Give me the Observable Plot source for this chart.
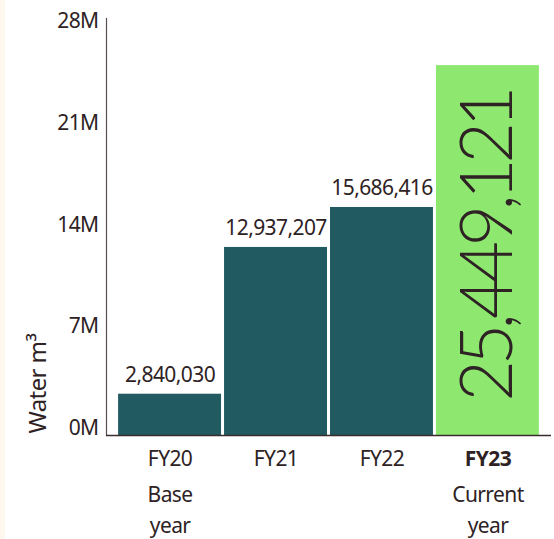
<!DOCTYPE html>
<html>
<head>
<meta charset="utf-8">
<script src="https://cdn.jsdelivr.net/npm/d3@7"></script>
<script src="https://cdn.jsdelivr.net/npm/@observablehq/plot@0.6"></script>
<style>
  html, body { margin: 0; padding: 0; background: #ffffff; }
  #wrap { width: 554px; height: 539px; background: linear-gradient(to right, #fef8ef 5px, #ffffff 5px); }
  #wrap svg { background: transparent; display: block; }
</style>
</head>
<body>
<div id="wrap"></div>
<script>
const categories = ["FY20", "FY21", "FY22", "FY23"];
const values = [2840030, 12937207, 15686416, 25449121];
const subLabels = ["Base\nyear", "", "", "Current\nyear"];
const yTicks = [0, 7000000, 14000000, 21000000, 28000000];
const yTickLabels = ["0M", "7M", "14M", "21M", "28M"];
const current = "FY23";

const data = categories.map((c, i) => ({cat: c, value: values[i], sub: subLabels[i]}));
const fmt = d3.format(",");
const textColor = "#2e2224";
const font = "'Noto Sans', 'Open Sans', sans-serif";

const chart = Plot.plot({
  width: 554,
  height: 539,
  marginLeft: 106,
  marginRight: 3,
  marginTop: 18,
  marginBottom: 104,
  style: {fontFamily: font, color: textColor, background: "transparent"},
  x: {domain: categories, paddingInner: 0, paddingOuter: 0.1, round: false, axis: null},
  y: {domain: [0, 28000000], range: [435, 28], axis: null},
  marks: [
    Plot.barY(data, {
      x: "cat", y: "value",
      fill: d => d.cat === current ? "#8ee870" : "#225a61",
      insetLeft: 1.5, insetRight: 1.5
    }),
    Plot.frame({anchor: "left", stroke: "#5b4e50", strokeWidth: 1.2}),
    Plot.ruleY([0], {stroke: "#3a2c2e", strokeWidth: 1.5}),
    // y tick labels
    Plot.text(yTicks, {
      y: d => d, text: (d, i) => yTickLabels[i],
      frameAnchor: "left", textAnchor: "end", lineAnchor: "middle",
      dx: -8, dy: -7, fontSize: 21, fill: textColor
    }),
    // y axis title
    Plot.text(["Water m³"], {
      frameAnchor: "bottom-left", rotate: -90, textAnchor: "start", lineAnchor: "middle",
      dx: -68, dy: -2, fontSize: 24, fill: textColor
    }),
    // value labels (non-current)
    Plot.text(data.filter(d => d.cat !== current), {
      x: "cat", y: "value", text: d => fmt(d.value),
      lineAnchor: "bottom", dy: -12, fontSize: 21, fill: textColor
    }),
    // big rotated label for current
    Plot.text(data.filter(d => d.cat === current), {
      x: "cat", y: d => d.value / 2, text: d => fmt(d.value),
      rotate: -90, textAnchor: "middle", lineAnchor: "middle",
      dx: 1, dy: -4, fontSize: 72, fontWeight: 300, fill: textColor,
      fontFamily: "Lato, sans-serif"
    }),
    // x category labels
    Plot.text(data.filter(d => d.cat !== current), {
      x: "cat", text: "cat", frameAnchor: "bottom",
      lineAnchor: "middle", dy: 24, fontSize: 21, fill: textColor
    }),
    Plot.text(data.filter(d => d.cat === current), {
      x: "cat", text: "cat", frameAnchor: "bottom",
      lineAnchor: "middle", dy: 24, fontSize: 21, fontWeight: "bold", fill: textColor
    }),
    // sub labels
    Plot.text(data, {
      x: "cat", text: "sub", frameAnchor: "bottom",
      lineAnchor: "top", dy: 45, fontSize: 21, lineHeight: 1.45, fill: textColor
    })
  ]
});
const bigText = fmt(values[categories.indexOf(current)]);
d3.select(chart).selectAll("text").each(function() {
  const t = this.textContent;
  const ls = t === bigText ? "-5.5px" : "-0.6px";
  this.setAttribute("letter-spacing", ls);
  this.style.letterSpacing = ls;
});
document.getElementById("wrap").appendChild(chart);
</script>
</body>
</html>
